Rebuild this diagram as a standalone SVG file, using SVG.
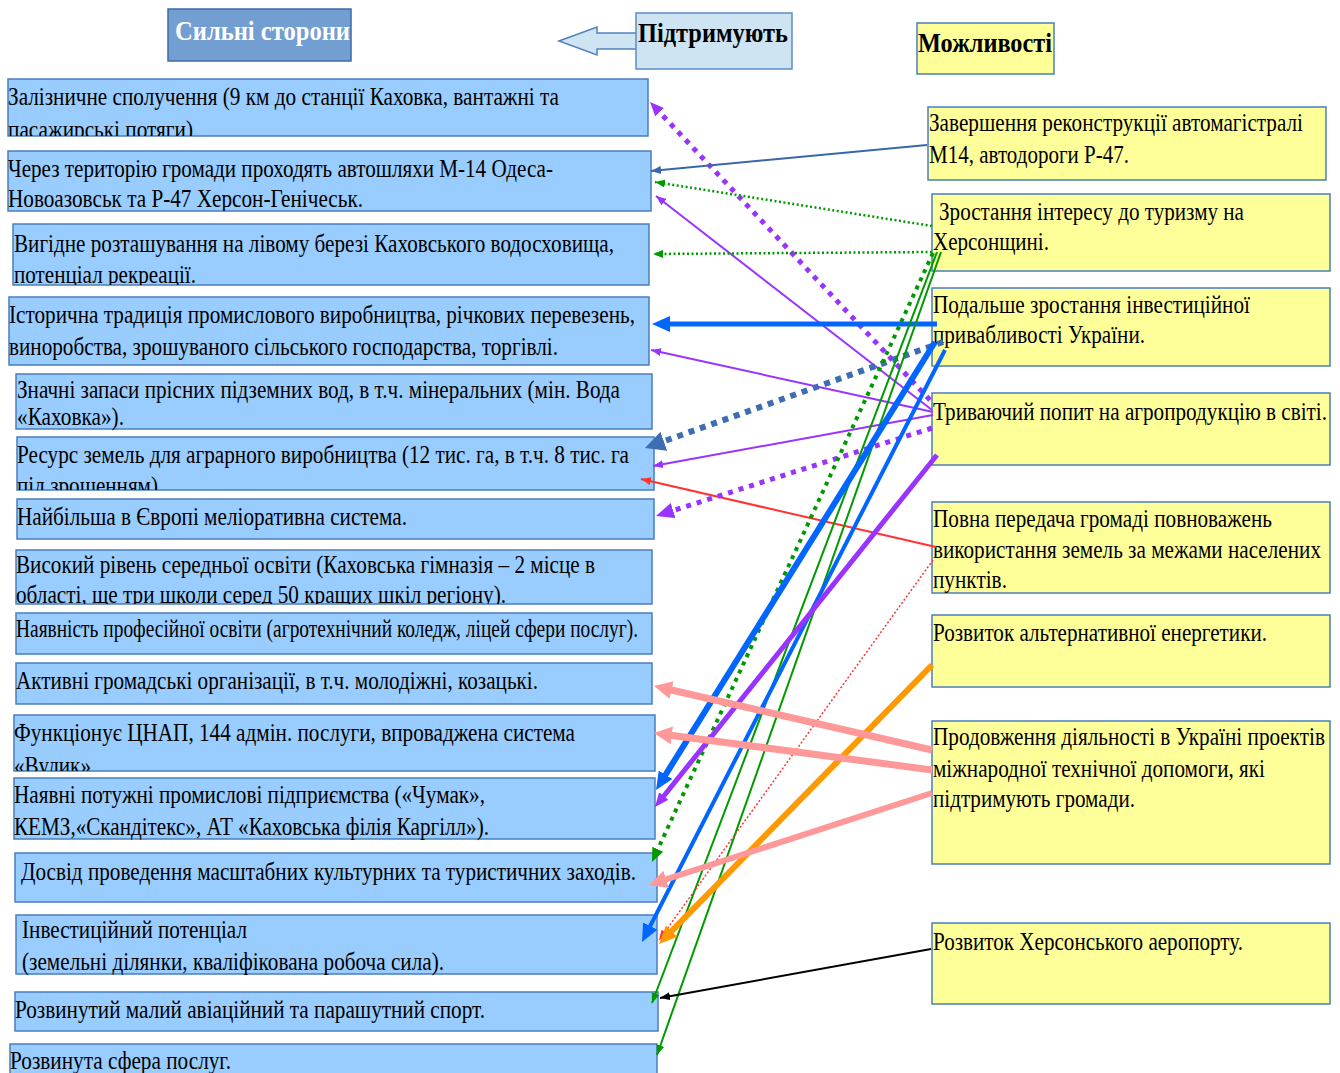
<svg xmlns="http://www.w3.org/2000/svg" width="1340" height="1073" viewBox="0 0 1340 1073">
<style>
.lb{fill:#99ccff;stroke:#4a7ebb;stroke-width:1.5}
.rb{fill:#ffff99;stroke:#4a7ebb;stroke-width:1.5}
.t{font-family:"Liberation Serif","Times New Roman",serif;font-size:26px;fill:#000}
.h{font-family:"Liberation Serif","Times New Roman",serif;font-size:28px;font-weight:bold}
.c{fill:none}
</style>
<defs>
<marker id="pu-s" viewBox="0 0 10 8" refX="10" refY="4" markerWidth="10" markerHeight="8" markerUnits="userSpaceOnUse" orient="auto"><path d="M0,0 L10,4 L0,8z" fill="#9933ff"/></marker>
<marker id="pu-m" viewBox="0 0 14 12" refX="7" refY="6" markerWidth="14" markerHeight="12" markerUnits="userSpaceOnUse" orient="auto"><path d="M0,0 L14,6 L0,12z" fill="#9933ff"/></marker>
<marker id="pu-b" viewBox="0 0 18 16" refX="9" refY="8" markerWidth="18" markerHeight="16" markerUnits="userSpaceOnUse" orient="auto"><path d="M0,0 L18,8 L0,16z" fill="#9933ff"/></marker>
<marker id="db-s" viewBox="0 0 10 8" refX="10" refY="4" markerWidth="10" markerHeight="8" markerUnits="userSpaceOnUse" orient="auto"><path d="M0,0 L10,4 L0,8z" fill="#3a67a8"/></marker>
<marker id="gr-s" viewBox="0 0 10 8" refX="10" refY="4" markerWidth="10" markerHeight="8" markerUnits="userSpaceOnUse" orient="auto"><path d="M0,0 L10,4 L0,8z" fill="#009a00"/></marker>
<marker id="gr-m" viewBox="0 0 14 12" refX="7" refY="6" markerWidth="14" markerHeight="12" markerUnits="userSpaceOnUse" orient="auto"><path d="M0,0 L14,6 L0,12z" fill="#009a00"/></marker>
<marker id="bl-b" viewBox="0 0 18 16" refX="9" refY="8" markerWidth="18" markerHeight="16" markerUnits="userSpaceOnUse" orient="auto"><path d="M0,0 L18,8 L0,16z" fill="#0066ff"/></marker>
<marker id="st-b" viewBox="0 0 20 20" refX="10" refY="10" markerWidth="20" markerHeight="20" markerUnits="userSpaceOnUse" orient="auto"><path d="M0,0 L20,10 L0,20z" fill="#3d6db3"/></marker>
<marker id="rd-s" viewBox="0 0 10 8" refX="10" refY="4" markerWidth="10" markerHeight="8" markerUnits="userSpaceOnUse" orient="auto"><path d="M0,0 L10,4 L0,8z" fill="#ff3333"/></marker>
<marker id="or-b" viewBox="0 0 18 16" refX="9" refY="8" markerWidth="18" markerHeight="16" markerUnits="userSpaceOnUse" orient="auto"><path d="M0,0 L18,8 L0,16z" fill="#ff9900"/></marker>
<marker id="pk-b" viewBox="0 0 18 18" refX="9" refY="9" markerWidth="18" markerHeight="18" markerUnits="userSpaceOnUse" orient="auto"><path d="M0,0 L18,9 L0,18z" fill="#ff9999"/></marker>
<marker id="bk-s" viewBox="0 0 10 8" refX="10" refY="4" markerWidth="10" markerHeight="8" markerUnits="userSpaceOnUse" orient="auto"><path d="M0,0 L10,4 L0,8z" fill="#000"/></marker>
<clipPath id="c1"><rect x="8" y="79" width="640" height="57"/></clipPath>
<clipPath id="c2"><rect x="8" y="151" width="643" height="60"/></clipPath>
<clipPath id="c3"><rect x="13" y="224" width="636" height="61"/></clipPath>
<clipPath id="c6"><rect x="17" y="437" width="637" height="53"/></clipPath>
<clipPath id="c8"><rect x="16" y="550" width="636" height="54"/></clipPath>
<clipPath id="c11"><rect x="14" y="715" width="641" height="56"/></clipPath>
</defs>
<rect width="1340" height="1073" fill="#fff"/>

<g id="hdr-strengths">
<rect x="168" y="9" width="183" height="52" fill="#739ed1" stroke="#3f6aa8" stroke-width="1.5"/>
<text class="h" x="175" y="40" fill="#fff" textLength="175" lengthAdjust="spacingAndGlyphs">Сильні сторони</text>
</g>
<g id="hdr-support">
<polygon points="559,41 597,27 597,33 637,33 637,49 597,49 597,55" fill="#cfe4f3" stroke="#4f81bd" stroke-width="1.5"/>
<rect x="636" y="13" width="156" height="56" fill="#cfe4f3" stroke="#5b8cc7" stroke-width="1.5"/>
<text class="h" x="638" y="42" fill="#000" textLength="150" lengthAdjust="spacingAndGlyphs">Підтримують</text>
</g>
<g id="hdr-opps">
<rect x="917" y="23" width="137" height="51" fill="#ffff99" stroke="#4a7ebb" stroke-width="1.5"/>
<text class="h" x="918" y="52" fill="#000" textLength="134" lengthAdjust="spacingAndGlyphs">Можливості</text>
</g>

<g id="s1">
<rect class="lb" x="8" y="79" width="640" height="57"/>
<g clip-path="url(#c1)">
<text class="t" x="8" y="105" textLength="551" lengthAdjust="spacingAndGlyphs">Залізничне сполучення (9 км до станції Каховка, вантажні та</text>
<text class="t" x="8" y="138" textLength="185" lengthAdjust="spacingAndGlyphs">пасажирські потяги)</text>
</g>
</g>
<g id="s2">
<rect class="lb" x="8" y="151" width="643" height="60"/>
<g clip-path="url(#c2)">
<text class="t" x="8" y="177" textLength="545" lengthAdjust="spacingAndGlyphs">Через територію громади проходять автошляхи М-14 Одеса-</text>
<text class="t" x="8" y="207" textLength="355" lengthAdjust="spacingAndGlyphs">Новоазовськ та Р-47 Херсон-Генічеськ.</text>
</g>
</g>
<g id="s3">
<rect class="lb" x="13" y="224" width="636" height="61"/>
<g clip-path="url(#c3)">
<text class="t" x="14" y="252" textLength="600" lengthAdjust="spacingAndGlyphs">Вигідне розташування на лівому березі Каховського водосховища,</text>
<text class="t" x="14" y="283" textLength="182" lengthAdjust="spacingAndGlyphs">потенціал рекреації.</text>
</g>
</g>
<g id="s4">
<rect class="lb" x="9" y="297" width="640" height="68"/>
<text class="t" x="9" y="323" textLength="626" lengthAdjust="spacingAndGlyphs">Історична традиція промислового виробництва, річкових перевезень,</text>
<text class="t" x="9" y="355" textLength="549" lengthAdjust="spacingAndGlyphs">виноробства, зрошуваного сільського господарства, торгівлі.</text>
</g>
<g id="s5">
<rect class="lb" x="16" y="374" width="636" height="55"/>
<text class="t" x="17" y="398" textLength="603" lengthAdjust="spacingAndGlyphs">Значні запаси прісних підземних вод, в т.ч. мінеральних (мін. Вода</text>
<text class="t" x="17" y="425" textLength="107" lengthAdjust="spacingAndGlyphs">«Каховка»).</text>
</g>
<g id="s6">
<rect class="lb" x="17" y="437" width="637" height="53"/>
<g clip-path="url(#c6)">
<text class="t" x="17" y="463" textLength="612" lengthAdjust="spacingAndGlyphs">Ресурс земель для аграрного виробництва (12 тис. га, в т.ч. 8 тис. га</text>
<text class="t" x="17" y="494" textLength="141" lengthAdjust="spacingAndGlyphs">під зрошенням)</text>
</g>
</g>
<g id="s7">
<rect class="lb" x="17" y="499" width="637" height="40"/>
<text class="t" x="17" y="525" textLength="390" lengthAdjust="spacingAndGlyphs">Найбільша в Європі меліоративна система.</text>
</g>
<g id="s8">
<rect class="lb" x="16" y="550" width="636" height="54"/>
<g clip-path="url(#c8)">
<text class="t" x="16" y="573" textLength="579" lengthAdjust="spacingAndGlyphs">Високий рівень середньої освіти (Каховська гімназія – 2 місце в</text>
<text class="t" x="16" y="603" textLength="490" lengthAdjust="spacingAndGlyphs">області, ще три школи серед 50 кращих шкіл регіону).</text>
</g>
</g>
<g id="s9">
<rect class="lb" x="16" y="613" width="636" height="41"/>
<text class="t" x="16" y="637" textLength="622" lengthAdjust="spacingAndGlyphs">Наявність професійної освіти (агротехнічний коледж, ліцей сфери послуг).</text>
</g>
<g id="s10">
<rect class="lb" x="16" y="663" width="636" height="41"/>
<text class="t" x="16" y="689" textLength="522" lengthAdjust="spacingAndGlyphs">Активні громадські організації, в т.ч. молодіжні, козацькі.</text>
</g>
<g id="s11">
<rect class="lb" x="14" y="715" width="641" height="56"/>
<g clip-path="url(#c11)">
<text class="t" x="14" y="741" textLength="561" lengthAdjust="spacingAndGlyphs">Функціонує ЦНАП, 144 адмін. послуги, впроваджена система</text>
<text class="t" x="14" y="774" textLength="77" lengthAdjust="spacingAndGlyphs">«Вулик»</text>
</g>
</g>
<g id="s12">
<rect class="lb" x="14" y="778" width="641" height="61"/>
<text class="t" x="14" y="803" textLength="471" lengthAdjust="spacingAndGlyphs">Наявні потужні промислові підприємства («Чумак»,</text>
<text class="t" x="14" y="835" textLength="475" lengthAdjust="spacingAndGlyphs">КЕМЗ,«Скандітекс», АТ «Каховська філія Каргілл»).</text>
</g>
<g id="s13">
<rect class="lb" x="15" y="853" width="642" height="49"/>
<text class="t" x="21" y="880" textLength="615" lengthAdjust="spacingAndGlyphs">Досвід проведення масштабних культурних та туристичних заходів.</text>
</g>
<g id="s14">
<rect class="lb" x="16" y="915" width="641" height="59"/>
<text class="t" x="22" y="938" textLength="225" lengthAdjust="spacingAndGlyphs">Інвестиційний потенціал</text>
<text class="t" x="22" y="970" textLength="422" lengthAdjust="spacingAndGlyphs">(земельні ділянки, кваліфікована робоча сила).</text>
</g>
<g id="s15">
<rect class="lb" x="15" y="992" width="643" height="39"/>
<text class="t" x="15" y="1018" textLength="470" lengthAdjust="spacingAndGlyphs">Розвинутий малий авіаційний та парашутний спорт.</text>
</g>
<g id="s16">
<rect class="lb" x="10" y="1044" width="647" height="40"/>
<text class="t" x="10" y="1069" textLength="221" lengthAdjust="spacingAndGlyphs">Розвинута сфера послуг.</text>
</g>

<g id="o1">
<rect class="rb" x="928" y="107" width="398" height="73"/>
<text class="t" transform="scale(0.82 1)" x="1132.93" y="131" textLength="456.1" lengthAdjust="spacingAndGlyphs">Завершення реконструкції автомагістралі</text>
<text class="t" transform="scale(0.82 1)" x="1132.93" y="163" textLength="243.9" lengthAdjust="spacingAndGlyphs">М14, автодороги Р-47.</text>
</g>
<g id="o2">
<rect class="rb" x="932" y="194" width="398" height="77"/>
<text class="t" transform="scale(0.82 1)" x="1145.12" y="220" textLength="371.95" lengthAdjust="spacingAndGlyphs">Зростання інтересу до туризму на</text>
<text class="t" transform="scale(0.82 1)" x="1137.8" y="250" textLength="141.46" lengthAdjust="spacingAndGlyphs">Херсонщині.</text>
</g>
<g id="o3">
<rect class="rb" x="932" y="288" width="398" height="78"/>
<text class="t" transform="scale(0.82 1)" x="1137.8" y="313" textLength="386.59" lengthAdjust="spacingAndGlyphs">Подальше зростання інвестиційної</text>
<text class="t" transform="scale(0.82 1)" x="1137.8" y="343" textLength="258.54" lengthAdjust="spacingAndGlyphs">привабливості України.</text>
</g>
<g id="o4">
<rect class="rb" x="932" y="393" width="398" height="72"/>
<text class="t" transform="scale(0.82 1)" x="1137.8" y="420" textLength="480.49" lengthAdjust="spacingAndGlyphs">Триваючий попит на агропродукцію в світі.</text>
</g>
<g id="o5">
<rect class="rb" x="932" y="502" width="398" height="91"/>
<text class="t" transform="scale(0.82 1)" x="1137.8" y="527" textLength="413.41" lengthAdjust="spacingAndGlyphs">Повна передача громаді повноважень</text>
<text class="t" transform="scale(0.82 1)" x="1137.8" y="558" textLength="473.17" lengthAdjust="spacingAndGlyphs">використання земель за межами населених</text>
<text class="t" transform="scale(0.82 1)" x="1137.8" y="588" textLength="90.24" lengthAdjust="spacingAndGlyphs">пунктів.</text>
</g>
<g id="o6">
<rect class="rb" x="932" y="615" width="398" height="72"/>
<text class="t" transform="scale(0.82 1)" x="1137.8" y="641" textLength="407.32" lengthAdjust="spacingAndGlyphs">Розвиток альтернативної енергетики.</text>
</g>
<g id="o7">
<rect class="rb" x="932" y="721" width="398" height="143"/>
<text class="t" transform="scale(0.82 1)" x="1137.8" y="745" textLength="478.05" lengthAdjust="spacingAndGlyphs">Продовження діяльності в Україні проектів</text>
<text class="t" transform="scale(0.82 1)" x="1137.8" y="777" textLength="404.88" lengthAdjust="spacingAndGlyphs">міжнародної технічної допомоги, які</text>
<text class="t" transform="scale(0.82 1)" x="1137.8" y="807" textLength="246.34" lengthAdjust="spacingAndGlyphs">підтримують громади.</text>
</g>
<g id="o8">
<rect class="rb" x="932" y="923" width="398" height="81"/>
<text class="t" transform="scale(0.82 1)" x="1137.8" y="950" textLength="378.05" lengthAdjust="spacingAndGlyphs">Розвиток Херсонського аеропорту.</text>
</g>

<g id="connectors" class="c">
<line x1="930" y1="400" x2="654.8" y2="107.1" stroke="#9933ff" stroke-width="5" stroke-dasharray="5 6" marker-end="url(#pu-m)"/>
<line x1="927" y1="145" x2="651" y2="171" stroke="#3a67a8" stroke-width="2" marker-end="url(#db-s)"/>
<line x1="932" y1="226" x2="655" y2="182" stroke="#009a00" stroke-width="2.5" stroke-dasharray="2 2.5" marker-end="url(#gr-s)"/>
<line x1="932" y1="410" x2="656" y2="196" stroke="#9933ff" stroke-width="2" marker-end="url(#pu-s)"/>
<line x1="932" y1="252" x2="653" y2="254" stroke="#009a00" stroke-width="2.5" stroke-dasharray="2 2.5" marker-end="url(#gr-s)"/>
<line x1="937" y1="324" x2="661" y2="324" stroke="#0066ff" stroke-width="5" marker-end="url(#bl-b)"/>
<line x1="933" y1="412" x2="651" y2="350" stroke="#9933ff" stroke-width="2" marker-end="url(#pu-s)"/>
<line x1="943" y1="342" x2="654.4" y2="444.6" stroke="#3d6db3" stroke-width="6" stroke-dasharray="6 6" marker-end="url(#st-b)"/>
<line x1="933" y1="415" x2="653" y2="466" stroke="#9933ff" stroke-width="2" marker-end="url(#pu-s)"/>
<line x1="936" y1="547" x2="641" y2="479" stroke="#ff3333" stroke-width="2" marker-end="url(#rd-s)"/>
<line x1="932" y1="428" x2="664.6" y2="513.3" stroke="#9933ff" stroke-width="5" stroke-dasharray="5 6" marker-end="url(#pu-b)"/>
<line x1="933" y1="253" x2="654.9" y2="855.6" stroke="#009a00" stroke-width="4" stroke-dasharray="4 5" marker-end="url(#gr-m)"/>
<line x1="937" y1="252" x2="652" y2="1003" stroke="#009a00" stroke-width="2" marker-end="url(#gr-s)"/>
<line x1="941" y1="252" x2="657" y2="1055" stroke="#009a00" stroke-width="2" marker-end="url(#gr-s)"/>
<line x1="935" y1="342" x2="660.8" y2="782.4" stroke="#0066ff" stroke-width="6" marker-end="url(#bl-b)"/>
<line x1="945" y1="350" x2="646.1" y2="934" stroke="#0066ff" stroke-width="4" marker-end="url(#bl-b)"/>
<line x1="937" y1="455" x2="659.4" y2="801.5" stroke="#9933ff" stroke-width="5" marker-end="url(#pu-m)"/>
<line x1="933" y1="560" x2="659" y2="940" stroke="#ff3333" stroke-width="1.5" stroke-dasharray="2 2" marker-end="url(#rd-s)"/>
<line x1="932" y1="665" x2="665.3" y2="937.6" stroke="#ff9900" stroke-width="6" marker-end="url(#or-b)"/>
<line x1="932" y1="750" x2="662.8" y2="688" stroke="#ff9999" stroke-width="7" marker-end="url(#pk-b)"/>
<line x1="932" y1="770" x2="662.9" y2="734.2" stroke="#ff9999" stroke-width="7" marker-end="url(#pk-b)"/>
<line x1="932" y1="793" x2="657.6" y2="882.2" stroke="#ff9999" stroke-width="6" marker-end="url(#pk-b)"/>
<line x1="931" y1="949" x2="660" y2="998" stroke="#000" stroke-width="2" marker-end="url(#bk-s)"/>
</g>
</svg>
